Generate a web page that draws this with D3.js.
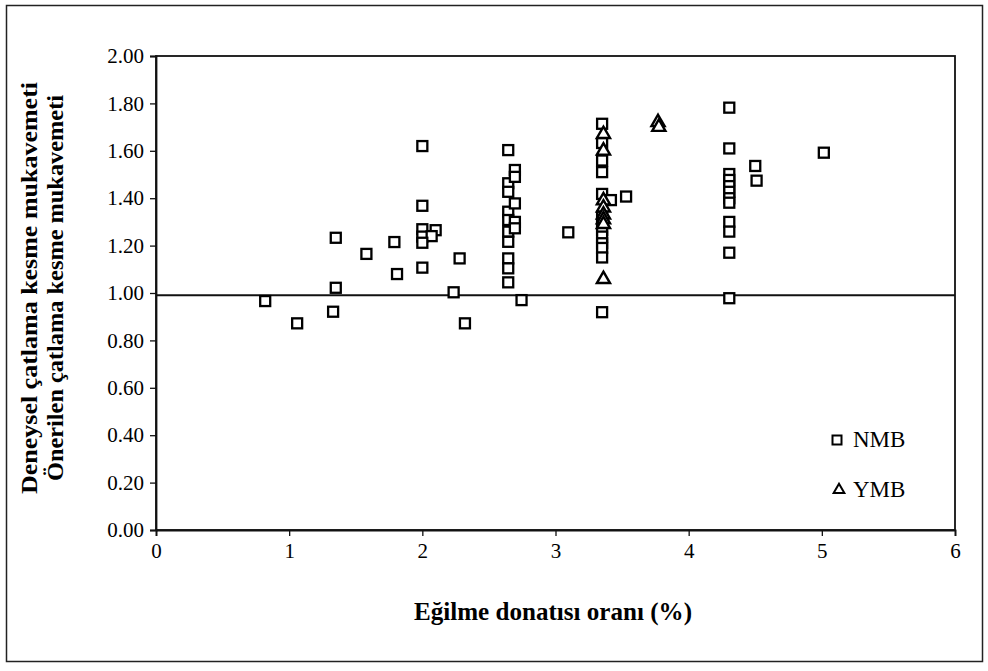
<!DOCTYPE html>
<html><head><meta charset="utf-8">
<script src="https://cdn.jsdelivr.net/npm/d3@7"></script>
<style>
body{margin:0;background:#fff;}
svg{display:block;}
text{font-family:"Liberation Serif","Times New Roman",serif;fill:#000;}
</style></head>
<body>
<svg id="chart" width="988" height="671"></svg>
<script>
// ---- data ----
const xTicks = [0, 1, 2, 3, 4, 5, 6];
const yTicks = [0, 0.2, 0.4, 0.6, 0.8, 1.0, 1.2, 1.4, 1.6, 1.8, 2.0];
const refLine = 0.99;

const nmbX = [0.82, 1.06, 1.35, 1.35, 1.33, 1.58, 1.79, 1.81,
  2.00, 2.00, 2.00, 2.10, 2.00, 2.07, 2.00, 2.00, 2.28, 2.235, 2.32,
  2.645, 2.645, 2.645, 2.645, 2.645, 2.645, 2.645, 2.645, 2.645, 2.645,
  2.695, 2.695, 2.695, 2.695, 2.695,
  2.745, 3.096,
  3.35, 3.35, 3.35, 3.35, 3.35, 3.35, 3.35, 3.35, 3.35, 3.35, 3.35, 3.35, 3.35,
  3.416, 3.53,
  4.305, 4.305, 4.305, 4.305, 4.305, 4.305, 4.305, 4.305, 4.305, 4.305, 4.305, 4.305,
  4.50, 4.51, 5.015];
const nmbY = [0.966, 0.872, 1.233, 1.022, 0.921, 1.165, 1.215, 1.08,
  1.62, 1.368, 1.269, 1.265, 1.238, 1.24, 1.212, 1.107, 1.146, 1.003, 0.872,
  1.603, 1.463, 1.427, 1.343, 1.308, 1.259, 1.216, 1.146, 1.104, 1.045,
  1.519, 1.49, 1.378, 1.30, 1.273,
  0.97, 1.256,
  1.714, 1.633, 1.559, 1.51, 1.418, 1.322, 1.294, 1.266, 1.238, 1.21, 1.19, 1.15, 0.919,
  1.392, 1.407,
  1.782, 1.61, 1.502, 1.477, 1.451, 1.427, 1.40, 1.381, 1.30, 1.259, 1.17, 0.978,
  1.536, 1.474, 1.592];

const ymbX = [3.36, 3.36, 3.36, 3.36, 3.36, 3.36, 3.36, 3.36, 3.77, 3.776];
const ymbY = [1.67, 1.60, 1.39, 1.36, 1.33, 1.31, 1.29, 1.058, 1.72, 1.70];

const seriesNames = ["NMB", "YMB"];
const xTitle = "Eğilme donatısı oranı (%)";
const yTitle1 = "Deneysel çatlama kesme mukavemeti";
const yTitle2 = "Önerilen çatlama kesme mukavemeti";

// ---- layout ----
const svg = d3.select("#chart");
const L = 156, R = 955, T = 56, B = 530;
const x = d3.scaleLinear().domain([0, 6]).range([L, R]);
const y = d3.scaleLinear().domain([0, 2]).range([B, T]);

// outer frame
svg.append("rect").attr("x", 6.5).attr("y", 5.5).attr("width", 976).attr("height", 656)
  .attr("fill", "none").attr("stroke", "#222").attr("stroke-width", 1.5);

// plot border (top/right)
svg.append("rect").attr("x", L).attr("y", T).attr("width", R - L).attr("height", B - T)
  .attr("fill", "none").attr("stroke", "#111").attr("stroke-width", 1.8);

// axes
const xAxis = svg.append("g").attr("transform", `translate(0,${B})`)
  .call(d3.axisBottom(x).tickValues(xTicks).tickFormat(d3.format("d")).tickSize(6).tickPadding(7));
const yAxis = svg.append("g").attr("transform", `translate(${L},0)`)
  .call(d3.axisLeft(y).tickValues(yTicks).tickFormat(d3.format(".2f")).tickSize(6).tickPadding(6));
[xAxis, yAxis].forEach(g => {
  g.select(".domain").attr("stroke", "#111").attr("stroke-width", 1.8);
  g.selectAll(".tick line").attr("stroke", "#111").attr("stroke-width", 1.3);
  g.selectAll(".tick text").style("font-family", '"Liberation Serif",serif').style("font-size", "21px").attr("fill", "#000");
});

// reference line
svg.append("line").attr("x1", x(0)).attr("x2", x(6)).attr("y1", y(refLine)).attr("y2", y(refLine))
  .attr("stroke", "#111").attr("stroke-width", 2);

// markers
const sq = 10;
const nmb = d3.zip(nmbX, nmbY);
svg.append("g").selectAll("rect").data(nmb).join("rect")
  .attr("x", d => x(d[0]) - sq / 2).attr("y", d => y(d[1]) - sq / 2)
  .attr("width", sq).attr("height", sq)
  .attr("fill", "#fff").attr("stroke", "#000").attr("stroke-width", 2.3);

const tri = d3.symbol().type(d3.symbolTriangle).size(75);
const ymb = d3.zip(ymbX, ymbY);
svg.append("g").selectAll("path").data(ymb).join("path")
  .attr("d", tri).attr("transform", d => `translate(${x(d[0])},${y(d[1])})`)
  .attr("fill", "#fff").attr("stroke", "#000").attr("stroke-width", 2.4);

// legend
const lg = svg.append("g");
lg.append("rect").attr("x", 837 - 4.5).attr("y", 440 - 4.5).attr("width", 9).attr("height", 9)
  .attr("fill", "#fff").attr("stroke", "#000").attr("stroke-width", 2);
lg.append("text").attr("x", 853).attr("y", 447).style("font-size", "23px").text(seriesNames[0]);
lg.append("path").attr("d", d3.symbol().type(d3.symbolTriangle).size(50))
  .attr("transform", "translate(839,490)")
  .attr("fill", "#fff").attr("stroke", "#000").attr("stroke-width", 2);
lg.append("text").attr("x", 853).attr("y", 497).style("font-size", "23px").text(seriesNames[1]);

// axis titles
svg.append("text").attr("x", 553).attr("y", 620).attr("text-anchor", "middle")
  .style("font-size", "25px").style("font-weight", "bold")
  .attr("textLength", 278).attr("lengthAdjust", "spacingAndGlyphs").text(xTitle);

svg.append("text").attr("transform", "translate(37,288) rotate(-90)").attr("text-anchor", "middle")
  .style("font-size", "24px").style("font-weight", "bold")
  .attr("textLength", 412).attr("lengthAdjust", "spacingAndGlyphs").text(yTitle1);
svg.append("text").attr("transform", "translate(63,288) rotate(-90)").attr("text-anchor", "middle")
  .style("font-size", "24px").style("font-weight", "bold")
  .attr("textLength", 386).attr("lengthAdjust", "spacingAndGlyphs").text(yTitle2);
</script>
</body></html>
